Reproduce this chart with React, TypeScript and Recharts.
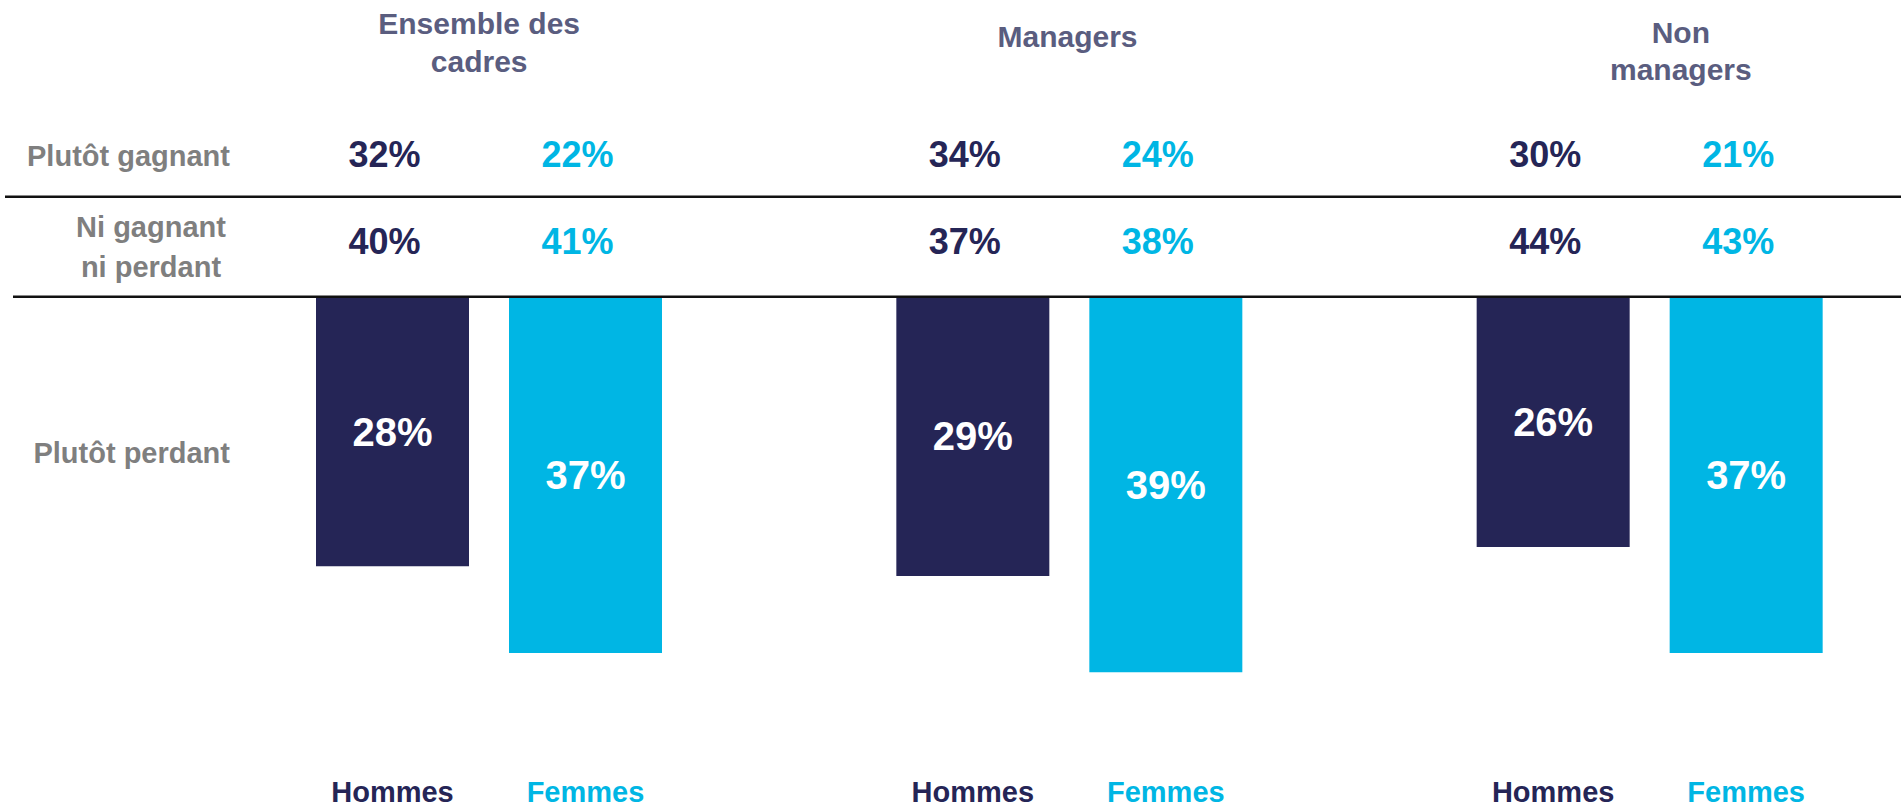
import React from 'react';
import { BarChart, Bar, XAxis, YAxis, LabelList, ReferenceLine } from 'recharts';

// ---------- data ----------
const groups = ['Ensemble des cadres', 'Managers', 'Non managers'];
const headerLines = [['Ensemble des', 'cadres'], ['Managers'], ['Non', 'managers']];
const seriesNames = ['Hommes', 'Femmes'];
const rowLabels = [['Plutôt gagnant'], ['Ni gagnant', 'ni perdant'], ['Plutôt perdant']];
const hommesGagnant = [32, 34, 30];
const femmesGagnant = [22, 24, 21];
const hommesNeutre = [40, 37, 44];
const femmesNeutre = [41, 38, 43];
const hommesPerdant = [28, 29, 26];
const femmesPerdant = [37, 39, 37];

const data = groups.map((g, i) => ({
  group: g,
  hG: hommesGagnant[i],
  fG: femmesGagnant[i],
  hN: hommesNeutre[i],
  fN: femmesNeutre[i],
  hP: -hommesPerdant[i],
  fP: -femmesPerdant[i],
}));

// ---------- style / layout ----------
const FONT = '"Liberation Sans", Arial, sans-serif';
const NAVY = '#252556';
const CYAN = '#00B6E4';
const HEADER = '#5A5D7F';
const GRAY = '#7F7F7F';
const CHART_W = 1940;
const CHART_H = 809;
const Y_AXIS_W = 199;
const TOP_AXIS_H = 105;
const Y_DOMAIN: [number, number] = [-53.2, 19.9];
const ROW_TICKS = [14.65, 5.2, -16.14];
const DIVIDER_VALUE = 10.37;
const headerBaselines = [[34, 72], [47], [43, 80]];
const headerDx = [-10, -2, 31];
const ROW1_BASELINE = 167;
const ROW2_BASELINE = 254;
const SERIES_BASELINE = 802;

const HeaderTick = (props: any) => {
  const { x, index } = props;
  const lines = headerLines[index] || [];
  const bases = headerBaselines[index] || [];
  return (
    <g>
      {lines.map((l, k) => (
        <text
          key={k}
          x={x + headerDx[index]}
          y={bases[k]}
          textAnchor="middle"
          fill={HEADER}
          fontFamily={FONT}
          fontWeight="bold"
          fontSize={30}
        >
          {l}
        </text>
      ))}
    </g>
  );
};

const RowTick = (props: any) => {
  const { y, index } = props;
  const lines = rowLabels[index] || [];
  if (lines.length === 2) {
    return (
      <g>
        <text x={151} y={y - 9.5} textAnchor="middle" fill={GRAY} fontFamily={FONT} fontWeight="bold" fontSize={29}>
          {lines[0]}
        </text>
        <text x={151} y={y + 30.5} textAnchor="middle" fill={GRAY} fontFamily={FONT} fontWeight="bold" fontSize={29}>
          {lines[1]}
        </text>
      </g>
    );
  }
  return (
    <text x={230} y={y + 10.5} textAnchor="end" fill={GRAY} fontFamily={FONT} fontWeight="bold" fontSize={29}>
      {lines[0]}
    </text>
  );
};

const rowValue = (baseline: number, color: string) => (props: any) => {
  const { x, width, value } = props;
  return (
    <text
      x={x + width / 2 - 8}
      y={baseline}
      textAnchor="middle"
      fill={color}
      fontFamily={FONT}
      fontWeight="bold"
      fontSize={36}
    >
      {`${value}%`}
    </text>
  );
};

const seriesLabel = (name: string, color: string) => (props: any) => {
  const { x, width } = props;
  return (
    <text
      x={x + width / 2}
      y={SERIES_BASELINE}
      textAnchor="middle"
      fill={color}
      fontFamily={FONT}
      fontWeight="bold"
      fontSize={29}
    >
      {name}
    </text>
  );
};

const dividerShape = (startX: number) => (props: any) => (
  <line x1={startX} y1={props.y1} x2={props.x2 ?? CHART_W} y2={props.y2} stroke="#111111" strokeWidth={2.5} />
);

export default function App() {
  return (
    <div
      style={{
        position: 'absolute',
        left: 0,
        top: 0,
        width: 1901,
        height: 809,
        overflow: 'hidden',
        background: '#ffffff',
      }}
    >
      <BarChart
        width={CHART_W}
        height={CHART_H}
        data={data}
        margin={{ top: 0, right: 0, bottom: 0, left: 0 }}
        barSize={153}
        barGap={40}
      >
        <XAxis
          dataKey="group"
          orientation="top"
          height={TOP_AXIS_H}
          axisLine={false}
          tickLine={false}
          interval={0}
          tick={<HeaderTick />}
        />
        <YAxis
          type="number"
          width={Y_AXIS_W}
          domain={Y_DOMAIN}
          allowDataOverflow
          ticks={ROW_TICKS}
          interval={0}
          axisLine={false}
          tickLine={false}
          tick={<RowTick />}
        />
        <Bar dataKey="hP" name={seriesNames[0]} fill={NAVY} isAnimationActive={false}>
          <LabelList dataKey="hG" content={rowValue(ROW1_BASELINE, NAVY)} />
          <LabelList dataKey="hN" content={rowValue(ROW2_BASELINE, NAVY)} />
          <LabelList
            dataKey="hP"
            position="center"
            fill="#ffffff"
            fontFamily={FONT}
            fontWeight="bold"
            fontSize={40}
            formatter={(v: any) => `${Math.abs(Number(v))}%`}
          />
          <LabelList dataKey="hP" content={seriesLabel(seriesNames[0], NAVY)} />
        </Bar>
        <Bar dataKey="fP" name={seriesNames[1]} fill={CYAN} isAnimationActive={false}>
          <LabelList dataKey="fG" content={rowValue(ROW1_BASELINE, CYAN)} />
          <LabelList dataKey="fN" content={rowValue(ROW2_BASELINE, CYAN)} />
          <LabelList
            dataKey="fP"
            position="center"
            fill="#ffffff"
            fontFamily={FONT}
            fontWeight="bold"
            fontSize={40}
            formatter={(v: any) => `${Math.abs(Number(v))}%`}
          />
          <LabelList dataKey="fP" content={seriesLabel(seriesNames[1], CYAN)} />
        </Bar>
        <ReferenceLine y={DIVIDER_VALUE} ifOverflow="visible" shape={dividerShape(5)} />
        <ReferenceLine y={0} ifOverflow="visible" shape={dividerShape(13)} />
      </BarChart>
    </div>
  );
}
